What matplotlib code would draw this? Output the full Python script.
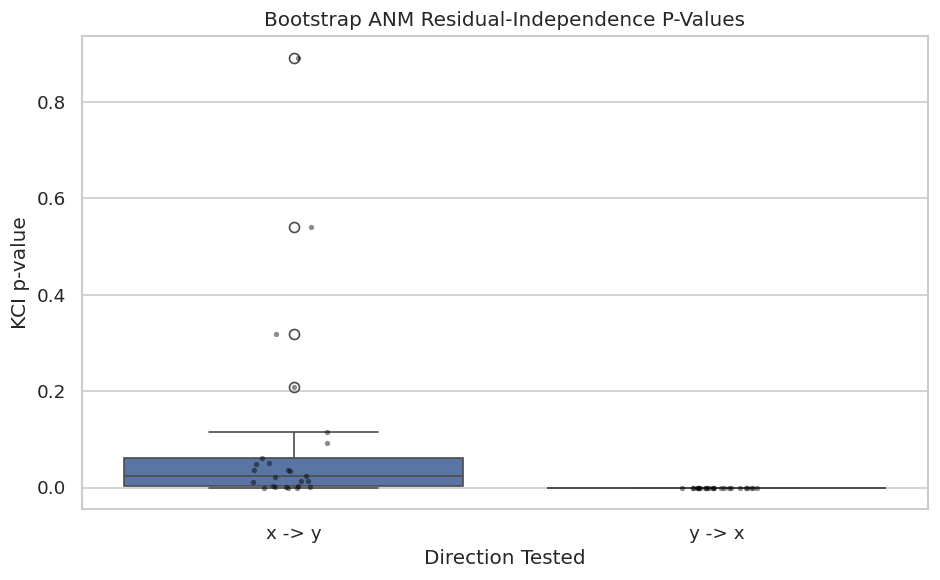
import matplotlib
matplotlib.use("Agg")
import matplotlib.pyplot as plt
import numpy as np
import pandas as pd
import seaborn as sns

sns.set_theme(style="whitegrid")
np.random.seed(3)

directions = ["x -> y", "y -> x"]
# bootstrap KCI p-values
pv_xy = [0.892, 0.541, 0.318, 0.208, 0.116, 0.093, 0.062, 0.051, 0.049, 0.037,
         0.036, 0.034, 0.023, 0.022, 0.014, 0.013, 0.012, 0.004, 0.004, 0.002,
         0.001, 0.001, 0.000, 0.000, 0.000]
pv_yx = [0.0, 0.0, 0.0, 0.0, 0.0, 0.0, 0.0, 0.0, 0.0, 0.0, 0.0, 0.0, 0.0,
         0.0, 0.0, 0.0, 0.0, 0.0, 0.0, 0.0, 0.0, 0.0, 0.0, 0.0, 0.0]

df = pd.DataFrame({
    "direction": [directions[0]] * len(pv_xy) + [directions[1]] * len(pv_yx),
    "p": pv_xy + pv_yx,
})

dpi = 120
fig, ax = plt.subplots(figsize=(940 / dpi, 580 / dpi), dpi=dpi)
sns.boxplot(data=df, x="direction", y="p", order=directions, ax=ax)
sns.stripplot(data=df, x="direction", y="p", order=directions, color="black",
              alpha=0.45, size=3.2, jitter=True, ax=ax)
ax.set_title("Bootstrap ANM Residual-Independence P-Values")
ax.set_xlabel("Direction Tested")
ax.set_ylabel("KCI p-value")
fig.subplots_adjust(left=82 / 940, right=928 / 940, top=1 - 36 / 580, bottom=1 - 509 / 580)
plt.savefig("out.png", dpi=dpi)
